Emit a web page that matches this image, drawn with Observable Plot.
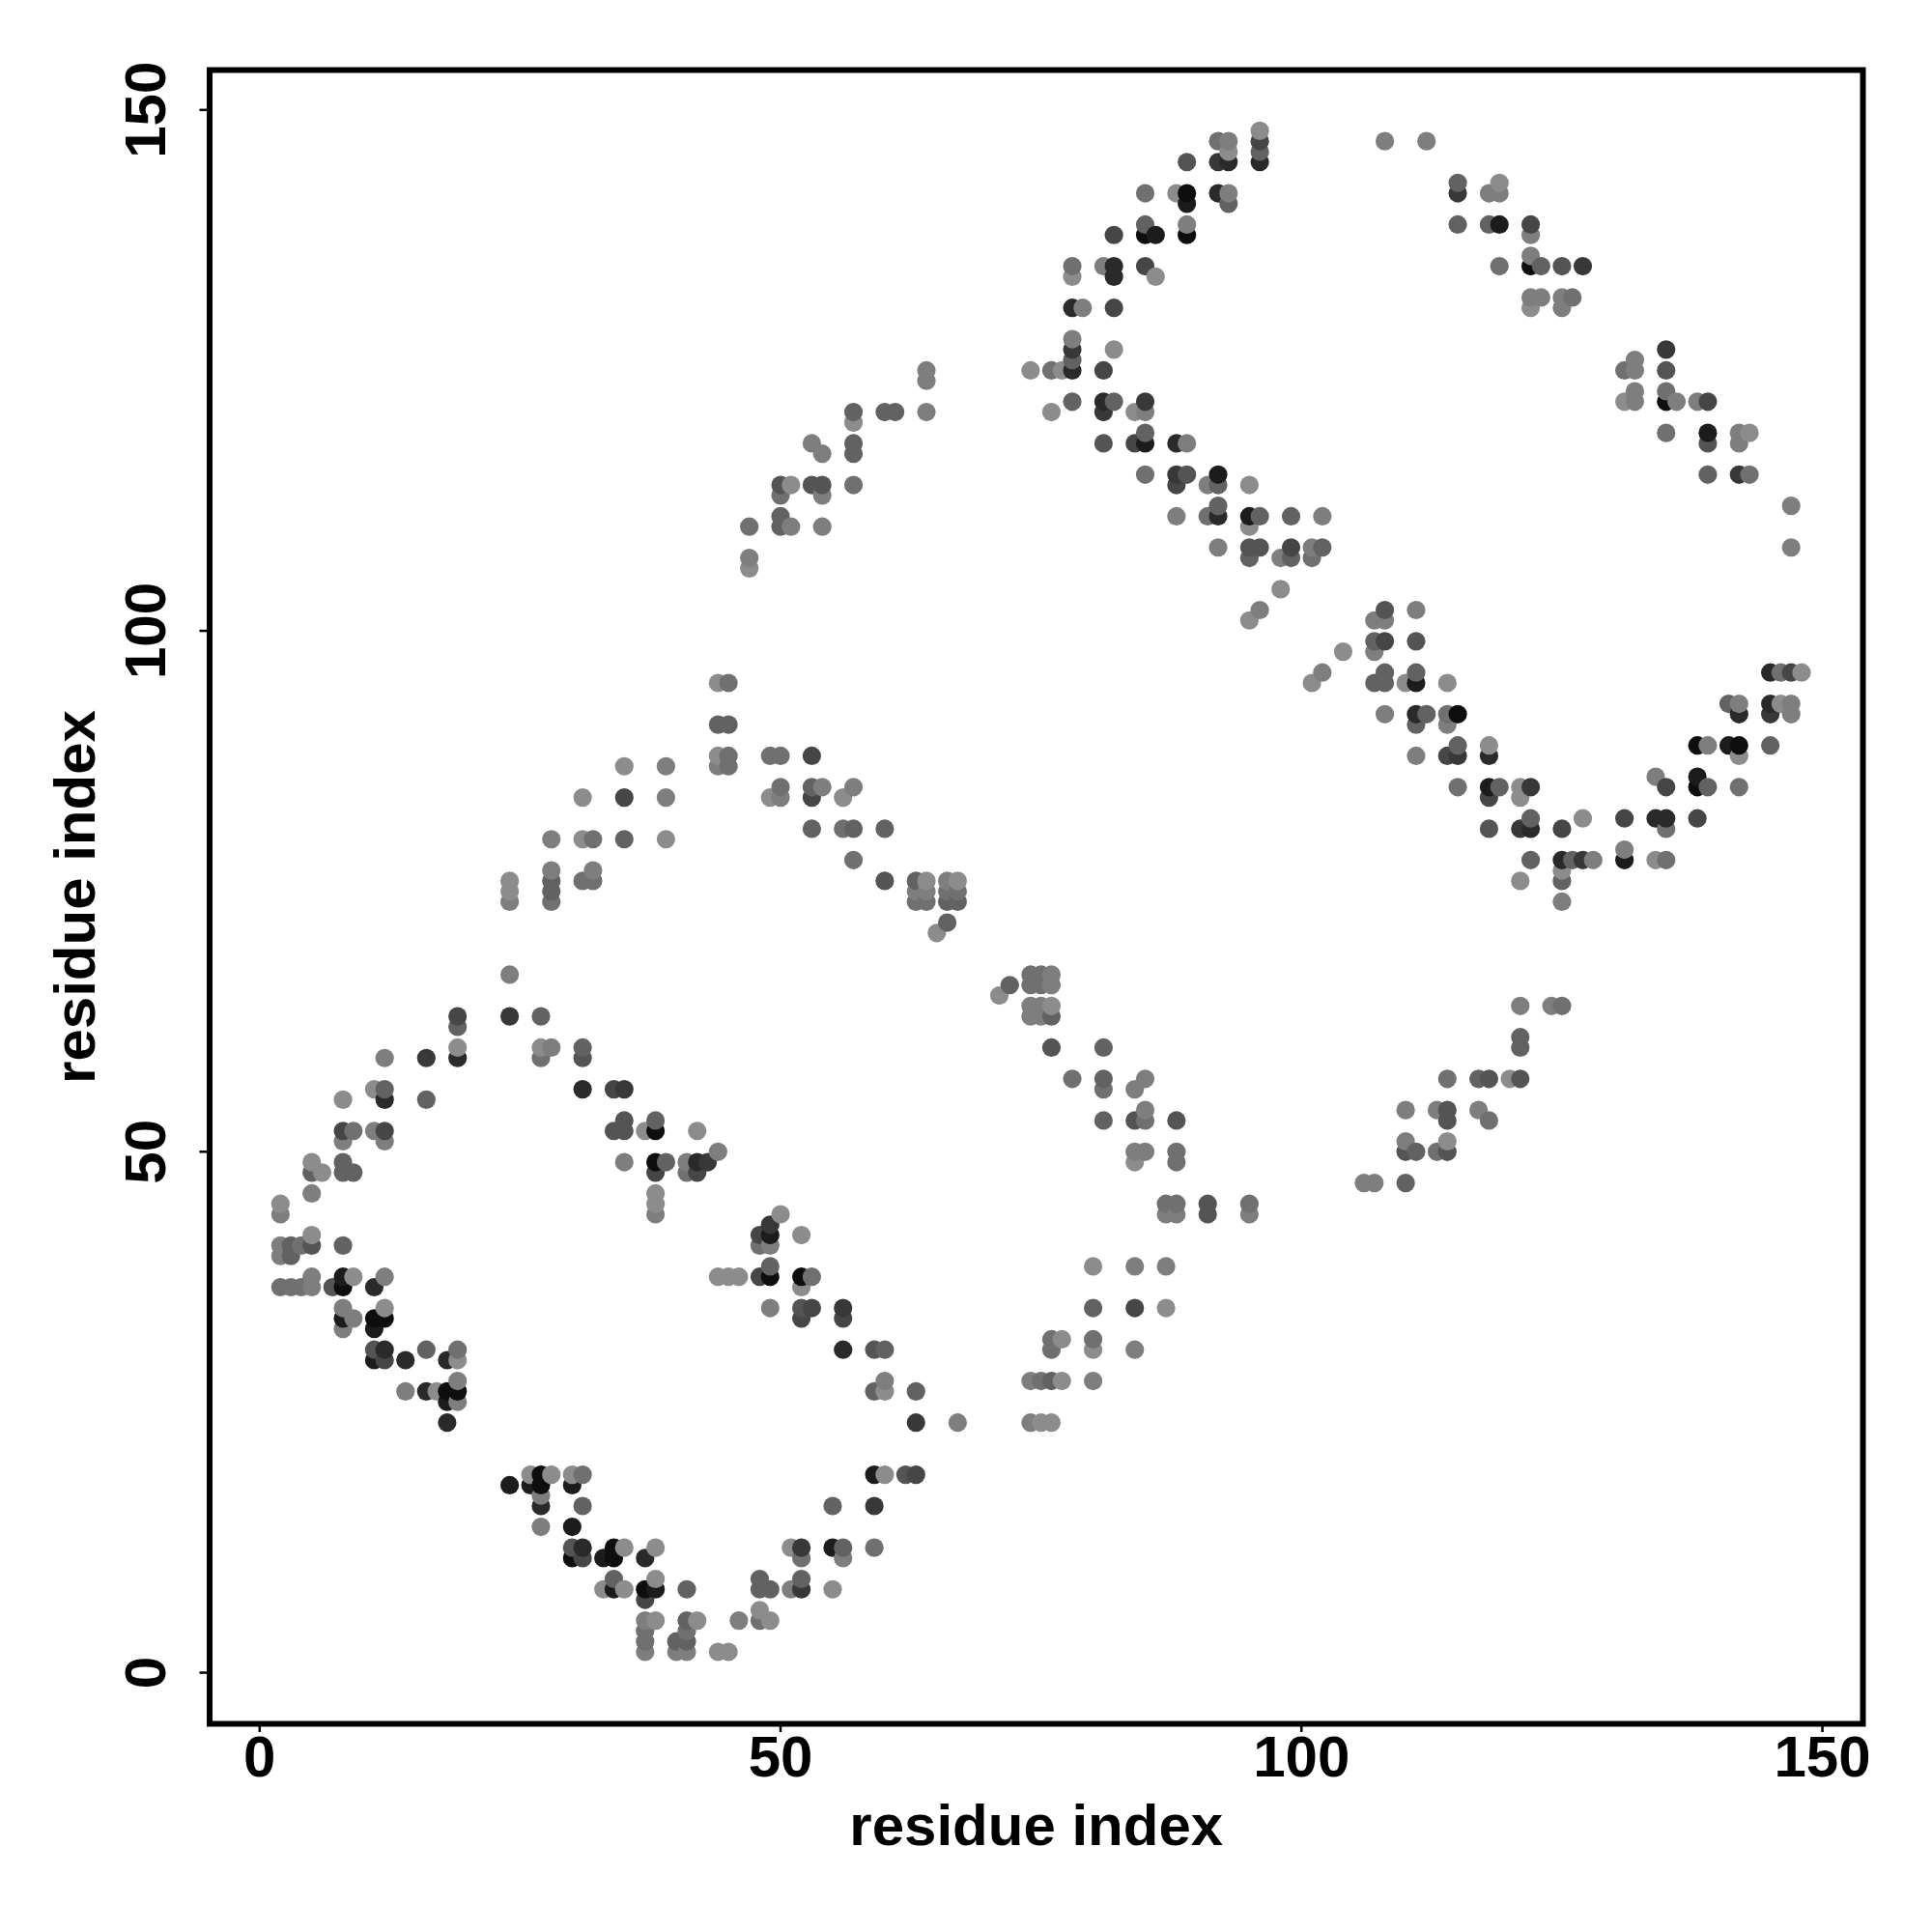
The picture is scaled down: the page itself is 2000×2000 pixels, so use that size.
<!DOCTYPE html>
<html>
<head>
<meta charset="utf-8">
<script src="https://cdn.jsdelivr.net/npm/d3@7"></script>
<script src="https://cdn.jsdelivr.net/npm/@observablehq/plot@0.6"></script>
<style>html,body{margin:0;padding:0;background:#fff}</style>
</head>
<body>
<div id="chart"></div>
<script>
// Each entry: [residue x, residue y, contact strength 0 (weak, light) .. 9 (strong, dark)]
const rowsLow = [
[37,2,1],[40,2,1],[41,2,1],[44,2,0],[45,2,0],
[37,3,2],[40,3,3],[41,3,3],
[37,4,2],[41,4,2],
[37,5,1],[38,5,0],[41,5,3],[42,5,0],[46,5,1],[48,5,2],[49,5,0],
[48,6,0],[37,7,5],
[33,8,0],[34,8,8],[35,8,0],[37,8,9],[38,8,8],[41,8,3],[48,8,3],[49,8,3],[51,8,1],[52,8,6],[55,8,0],
[34,9,3],[38,9,0],[48,9,3],[52,9,3],
[30,11,9],[31,11,5],[33,11,8],[34,11,9],[37,11,7],[52,11,2],[56,11,1],
[30,12,4],[31,12,7],[34,12,9],[35,12,0],[38,12,0],[51,12,0],[52,12,6],[55,12,8],[56,12,3],[59,12,2],
[27,14,1],[30,14,8],
[27,16,7],[31,16,3],[55,16,3],[59,16,6],
[27,17,1],
[24,18,8],[26,18,8],[27,18,9],[30,18,8],
[26,19,0],[27,19,9],[28,19,0],[30,19,0],[31,19,2],[59,19,8],[60,19,0],[62,19,4],[63,19,5],
[18,24,7],[63,24,6],[67,24,1],[74,24,1],[75,24,0],[76,24,0],
[18,26,8],[19,26,1],
[14,27,1],[16,27,7],[17,27,0],[18,27,9],[19,27,9],[59,27,3],[60,27,0],[63,27,3],
[19,28,1],[60,28,1],[74,28,1],[75,28,2],[76,28,3],[77,28,0],[80,28,1],
[11,30,8],[12,30,5],[14,30,7],[18,30,7],[19,30,0],
[11,31,4],[12,31,7],[16,31,3],[19,31,2],[56,31,7],[59,31,4],[60,31,3],[76,31,2],[80,31,0],[84,31,1],
[76,32,2],[77,32,0],[80,32,2],
[8,33,1],[11,33,8],
[8,34,8],[9,34,1],[11,34,9],[12,34,9],[52,34,5],[56,34,5],
[8,35,1],[12,35,0],[49,35,1],[52,35,4],[53,35,5],[56,35,6],[80,35,3],[84,35,5],[87,35,0]
];
const rowsLowMid = [
[2,37,2],[3,37,2],[4,37,2],[5,37,1],[7,37,4],[8,37,9],[11,37,7],[52,37,0],
[5,38,1],[8,38,8],[9,38,0],[12,38,1],[44,38,0],[45,38,0],[46,38,0],[48,38,5],[49,38,9],[52,38,9],[53,38,2],
[49,39,3],[80,39,0],[84,39,1],[87,39,1],
[2,40,1],[3,40,3],
[2,41,1],[3,41,3],[4,41,2],[5,41,4],[8,41,3],[48,41,2],[49,41,1],
[5,42,0],[48,42,5],[49,42,8],[52,42,0],
[49,43,6],
[2,44,1],[38,44,1],[50,44,0],[87,44,1],[88,44,1],[91,44,4],[95,44,1],
[2,45,0],[38,45,0],[87,45,2],[88,45,2],[91,45,4],[95,45,2],
[5,46,1],[38,46,0],
[106,47,1],[107,47,1],[110,47,3],
[5,48,3],[6,48,0],[8,48,3],[9,48,3],[38,48,5],[41,48,2],[42,48,5],
[5,49,0],[8,49,3],[35,49,1],[38,49,9],[39,49,3],[41,49,1],[42,49,7],[43,49,6],[84,49,0],[88,49,2],
[44,50,1],[84,50,1],[85,50,1],[88,50,2],[110,50,4],[111,50,3],[113,50,2],[114,50,4],
[8,51,1],[12,51,1],[110,51,1],[114,51,0],
[8,52,5],[9,52,2],[11,52,1],[12,52,5],[34,52,4],[35,52,4],[37,52,0],[38,52,9],[42,52,0],
[35,53,4],[38,53,3],[81,53,3],[84,53,4],[85,53,2],[88,53,4],[114,53,4],[118,53,2],
[85,54,1],[110,54,1],[113,54,1],[114,54,4],[117,54,1],
[8,55,0],[12,55,7],[16,55,3],
[11,56,0],[12,56,3],[31,56,7],[34,56,5],[35,56,6],[81,56,2],[84,56,1],
[78,57,2],[81,57,3],[85,57,1],[114,57,2],[117,57,3],[118,57,4],[120,57,0],[121,57,4],
[12,59,1],[16,59,6],[19,59,7],[27,59,2],[31,59,4],
[19,60,0],[27,60,0],[28,60,1],[31,60,3],[76,60,4],[81,60,3],[121,60,3],
[121,61,3],[19,62,3],
[19,63,5],[24,63,6],[27,63,3],[74,63,1],[75,63,1],[76,63,3],
[74,64,1],[75,64,1],[76,64,0],[121,64,1],[124,64,1],[125,64,2],
[71,65,0],
[72,66,3],[74,66,2],[75,66,2],[76,66,1],
[24,67,1],[74,67,2],[75,67,2],[76,67,1]
];
const rowsMid = [
[65,71,0],[66,72,3],
[24,74,1],[28,74,2],[63,74,2],[64,74,2],[66,74,3],[67,74,3],[125,74,1],
[24,75,0],[28,75,3],[63,75,1],[64,75,1],[66,75,2],[67,75,2],
[24,76,0],[28,76,3],[31,76,2],[32,76,2],[60,76,4],[63,76,3],[64,76,0],[66,76,1],[67,76,0],[121,76,0],[125,76,3],
[28,77,1],[32,77,1],[125,77,0],
[57,78,2],[122,78,3],[125,78,7],[126,78,3],[127,78,6],[128,78,1],[131,78,8],[134,78,0],[135,78,2],
[131,79,1],
[28,80,1],[31,80,0],[32,80,2],[35,80,3],[39,80,0],
[53,81,3],[56,81,2],[57,81,3],[60,81,3],[118,81,4],[121,81,6],[122,81,7],[125,81,5],[135,81,2],
[122,82,3],[127,82,0],[131,82,5],[134,82,7],[135,82,7],[138,82,5],
[31,84,0],[35,84,5],[39,84,1],[49,84,0],[50,84,1],[53,84,5],[56,84,0],[118,84,5],[121,84,0],
[50,85,2],[53,85,3],[54,85,1],[57,85,1],[115,85,2],[118,85,8],[119,85,3],[121,85,0],[122,85,6],[135,85,5],[138,85,9],[139,85,3],[142,85,2],
[134,86,1],[138,86,8],
[35,87,0],[39,87,1],[44,87,1],[45,87,2],
[44,88,0],[45,88,2],[49,88,2],[50,88,2],[53,88,5],[111,88,1],[114,88,5],[115,88,6],[118,88,7],[142,88,0],
[115,89,3],[118,89,0],[138,89,9],[139,89,1],[141,89,8],[142,89,9],[145,89,3],
[44,91,3],[45,91,3],[111,91,3],[114,91,1],
[108,92,1],[111,92,7],[112,92,3],[114,92,2],[115,92,9],[142,92,7],[145,92,6],[147,92,1],
[141,93,3],[142,93,1],[145,93,7],[146,93,0],[147,93,1],
[44,95,0],[45,95,2],[101,95,0],[107,95,3],[108,95,3],[110,95,0],[111,95,8],[114,95,0],
[102,96,1],[108,96,3],[111,96,3],[145,96,7],[146,96,2],[147,96,5],[148,96,0],
[104,98,0],[107,98,1],
[107,99,3],[108,99,5],[111,99,4],
[95,101,0],[107,101,1],[108,101,1],
[96,102,1],[108,102,4],[111,102,1]
];
const rowsHigh = [
[98,104,0],[47,106,0],
[47,107,1],[95,107,3],[98,107,1],[99,107,3],[101,107,2],
[92,108,1],[95,108,4],[96,108,4],[99,108,5],[101,108,1],[102,108,3],[147,108,1],
[47,110,2],[50,110,3],[51,110,1],[54,110,1],[95,110,0],
[50,111,3],[88,111,1],[91,111,2],[92,111,7],[95,111,8],[96,111,3],[99,111,3],[102,111,1],
[92,112,3],[147,112,1],
[50,113,2],[54,113,1],
[50,114,4],[51,114,0],[53,114,4],[54,114,4],[57,114,2],[88,114,5],[91,114,1],[92,114,3],[95,114,0],
[85,115,2],[88,115,6],[89,115,4],[92,115,8],[139,115,3],[142,115,6],[143,115,2],
[54,117,1],[57,117,3],
[53,118,1],[57,118,3],[81,118,4],[84,118,5],[85,118,8],[88,118,7],[89,118,1],[139,118,4],[142,118,1],
[85,119,3],[135,119,2],[139,119,8],[142,119,1],[143,119,0],
[57,120,0],
[57,121,3],[60,121,3],[61,121,3],[64,121,1],[76,121,0],[81,121,6],[84,121,0],[85,121,1],
[78,122,3],[81,122,7],[82,122,3],[85,122,6],[131,122,0],[132,122,1],[135,122,9],[136,122,1],[138,122,1],[139,122,5],
[132,123,1],[135,123,2],
[64,124,1],
[64,125,1],[74,125,0],[76,125,2],[77,125,0],[78,125,7],[81,125,5],[131,125,2],[132,125,1],[135,125,4],
[78,126,3],[132,126,1],
[78,127,6],[82,127,0],[135,127,6],
[78,128,1],
[78,131,7],[79,131,1],[82,131,5],[122,131,0],[125,131,1],
[122,132,1],[123,132,1],[125,132,1],[126,132,2],
[78,134,0],[82,134,7],[86,134,0],
[78,135,2],[81,135,1],[82,135,7],[85,135,5],[119,135,2],[122,135,9],[123,135,3],[125,135,4],[127,135,6],
[122,136,1],
[82,138,5],[85,138,9],[86,138,8],[89,138,9],[122,138,1],
[85,139,3],[89,139,1],[115,139,3],[118,139,3],[119,139,8],[122,139,5],
[89,141,8],[93,141,3],
[85,142,2],[88,142,0],[89,142,9],[92,142,7],[93,142,1],[115,142,6],[118,142,1],[119,142,1],
[115,143,3],[119,143,0],
[89,145,4],[92,145,6],[93,145,7],[96,145,7],
[93,146,0],[96,146,3],
[92,147,2],[93,147,1],[96,147,5],[108,147,1],[112,147,1],
[96,148,0]
];
const tickValues = [0, 50, 100, 150];
const axisTitle = "residue index";

const contacts = [...rowsLow, ...rowsLowMid, ...rowsMid, ...rowsHigh]
  .map(([i, j, s]) => ({i, j, s}))
  .sort((a, b) => d3.ascending(a.i, b.i) || d3.ascending(a.j, b.j));

const chart = Plot.plot({
  width: 2000,
  height: 2000,
  marginLeft: 216.5,
  marginRight: 72,
  marginTop: 72,
  marginBottom: 216,
  style: {fontFamily: "'Liberation Sans', Arial, sans-serif", background: "#fff", overflow: "visible"},
  x: {domain: [-4.80, 153.89]},
  y: {domain: [-4.91, 153.83]},
  color: {type: "linear", domain: [0, 9], range: ["#8c8c8c", "#0e0e0e"]},
  marks: [
    Plot.dot(contacts, {x: "i", y: "j", fill: "s", r: 9.6}),
    Plot.frame({stroke: "#000", strokeWidth: 6}),
    Plot.axisX({
      ticks: tickValues, tickSize: 9, tickPadding: 2.5, strokeWidth: 2.5, stroke: "#000",
      fontSize: 60, fontWeight: "bold", tickFormat: d => String(d), fill: "#000",
      label: axisTitle, labelAnchor: "center", labelArrow: "none", labelOffset: 125.5
    }),
    Plot.axisY({
      ticks: tickValues, tickSize: 10, tickPadding: 36, strokeWidth: 2.5, stroke: "#000",
      fontSize: 60, fontWeight: "bold", tickFormat: d => String(d), tickRotate: -90, fill: "#000",
      label: axisTitle, labelAnchor: "center", labelArrow: "none", labelOffset: 162
    })
  ]
});
document.getElementById("chart").appendChild(chart);
</script>
</body>
</html>
